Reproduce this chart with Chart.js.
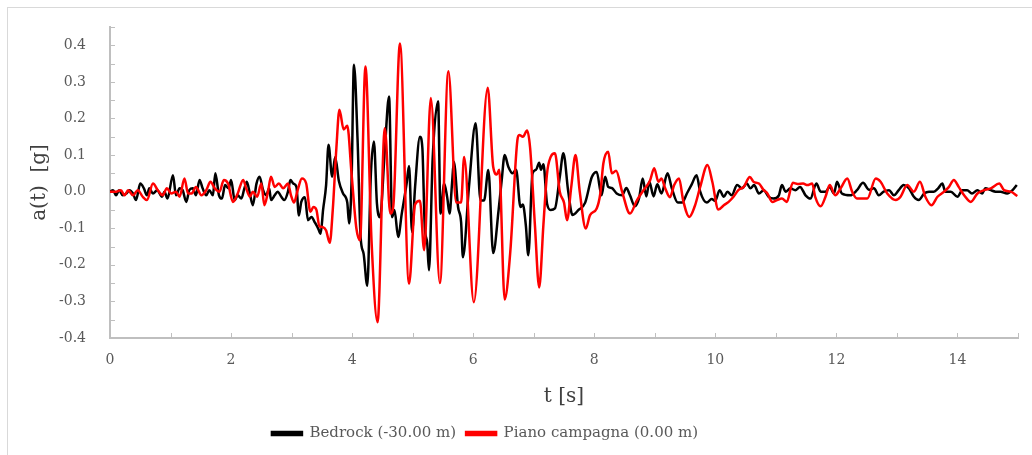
<!DOCTYPE html>
<html>
<head>
<meta charset="utf-8">
<script src="https://cdn.jsdelivr.net/npm/chart.js@4"></script>
<style>
  body { margin: 0; background: #fff; }
  #wrap { position: relative; width: 1032px; height: 455px; overflow: hidden; }
  #frame { position: absolute; left: 7px; top: 7px; width: 1060px; height: 480px;
           border-top: 1px solid #d9d9d9; border-left: 1px solid #d9d9d9; }
  canvas { position: absolute; left: 0; top: 0; }
</style>
</head>
<body>
<div id="wrap">
  <div id="frame"></div>
  <canvas id="accChart" width="1032" height="455"></canvas>
</div>
<script>
// [t (s), a (g)]
const bedrock = [
  [0, 0], [0.05, 0.004], [0.10, -0.01], [0.15, 0.004], [0.21, -0.01], [0.27, -0.005],
  [0.32, 0.004], [0.38, -0.005], [0.43, -0.023], [0.50, 0.022], [0.56, 0.009], [0.61, -0.01],
  [0.65, 0.009], [0.71, -0.005], [0.78, 0.004], [0.86, -0.014], [0.90, 0], [0.95, -0.019],
  [1.04, 0.045], [1.09, -0.01], [1.15, 0.009], [1.20, 0.004], [1.26, -0.028], [1.31, 0.004],
  [1.37, 0.009], [1.42, -0.01], [1.48, 0.032], [1.53, 0.009], [1.59, -0.01], [1.64, 0.004],
  [1.70, -0.01], [1.74, 0.05], [1.80, -0.01], [1.85, -0.019], [1.90, 0.018], [1.96, 0.009],
  [2.00, 0.032], [2.06, -0.023], [2.11, -0.01], [2.17, -0.019], [2.22, 0.009], [2.26, 0.027],
  [2.31, -0.005], [2.36, -0.037], [2.42, 0.022], [2.47, 0.041], [2.53, 0.004], [2.58, -0.01],
  [2.63, 0.009], [2.66, -0.023], [2.72, -0.01], [2.77, 0], [2.83, -0.014], [2.88, -0.023],
  [2.94, 0], [2.98, 0.032], [3.03, 0.022], [3.08, 0.013], [3.12, -0.065], [3.16, -0.028],
  [3.22, -0.015], [3.27, -0.078], [3.33, -0.069], [3.38, -0.083], [3.44, -0.101], [3.48, -0.115],
  [3.52, -0.05], [3.57, 0.018], [3.61, 0.128], [3.67, 0.041], [3.72, 0.095], [3.78, 0.03],
  [3.85, -0.005], [3.92, -0.03], [3.95, -0.087], [3.99, 0.024], [4.03, 0.347], [4.09, 0.141],
  [4.14, -0.124], [4.19, -0.17], [4.25, -0.257], [4.31, 0.05], [4.36, 0.137], [4.41, -0.033],
  [4.46, -0.07], [4.54, 0.114], [4.61, 0.26], [4.66, -0.07], [4.70, -0.05], [4.76, -0.124],
  [4.82, -0.06], [4.90, 0.022], [4.94, 0.07], [4.99, -0.11], [5.04, 0.013], [5.12, 0.15],
  [5.16, 0.12], [5.20, -0.097], [5.24, -0.14], [5.27, -0.215], [5.33, 0.09], [5.42, 0.247],
  [5.46, -0.06], [5.52, 0.022], [5.57, -0.015], [5.61, -0.06], [5.65, 0.022], [5.68, 0.082],
  [5.75, -0.042], [5.80, -0.083], [5.83, -0.179], [5.93, 0.013], [6.04, 0.187], [6.12, -0.024],
  [6.18, -0.024], [6.25, 0.059], [6.33, -0.168], [6.42, -0.05], [6.47, 0.03], [6.52, 0.1],
  [6.58, 0.068], [6.65, 0.05], [6.71, 0.06], [6.78, -0.042], [6.82, -0.035], [6.87, -0.093],
  [6.91, -0.174], [6.98, 0.05], [7.04, 0.06], [7.09, 0.079], [7.12, 0.06], [7.16, 0.075],
  [7.22, -0.033], [7.28, -0.05], [7.35, -0.046], [7.43, 0.04], [7.49, 0.105], [7.57, 0],
  [7.64, -0.064], [7.74, -0.05], [7.85, -0.03], [7.96, 0.04], [8.04, 0.054], [8.12, -0.01],
  [8.18, 0.041], [8.23, 0.013], [8.29, 0.01], [8.37, -0.005], [8.46, -0.01], [8.53, 0.01],
  [8.59, -0.01], [8.67, -0.04], [8.74, -0.018], [8.80, 0.036], [8.86, -0.013], [8.91, 0.027],
  [8.98, -0.013], [9.04, 0.02], [9.11, -0.005], [9.21, 0.05], [9.28, 0.01], [9.38, -0.03],
  [9.45, -0.03], [9.53, -0.005], [9.61, 0.02], [9.69, 0.045], [9.75, 0], [9.86, -0.03],
  [9.94, -0.02], [10.0, -0.025], [10.07, 0.004], [10.14, -0.014], [10.20, 0], [10.27, -0.01],
  [10.36, 0.018], [10.44, 0.009], [10.52, 0.022], [10.58, 0.009], [10.64, 0.018], [10.72, -0.005],
  [10.80, 0.004], [10.88, -0.014], [10.96, -0.019], [11.05, -0.01], [11.10, 0.018], [11.16, 0],
  [11.24, 0.009], [11.32, 0.004], [11.40, 0.013], [11.49, -0.01], [11.57, -0.019], [11.67, 0.022],
  [11.74, 0], [11.82, 0], [11.89, 0.013], [11.96, -0.005], [12.01, 0.027], [12.09, -0.005],
  [12.23, -0.01], [12.34, 0.004], [12.44, 0.024], [12.54, 0.005], [12.62, 0.009], [12.70, -0.01],
  [12.78, 0], [12.87, 0.004], [12.95, -0.01], [13.03, 0.004], [13.11, 0.018], [13.20, 0.009],
  [13.28, -0.014], [13.36, -0.023], [13.45, -0.005], [13.53, 0], [13.61, 0], [13.68, 0.009],
  [13.75, 0.022], [13.80, 0], [13.89, 0], [14.0, -0.014], [14.08, 0.004], [14.16, 0.004],
  [14.24, -0.005], [14.33, 0.004], [14.41, -0.005], [14.46, 0.009], [14.55, 0.004], [14.63, 0],
  [14.71, 0], [14.82, -0.005], [14.91, 0.004], [14.98, 0.018]
];

const piano = [
  [0, 0], [0.10, 0], [0.18, 0.004], [0.24, -0.01], [0.30, 0.004], [0.38, -0.01],
  [0.46, 0.004], [0.54, -0.014], [0.61, -0.023], [0.71, 0.022], [0.79, 0.004], [0.87, -0.01],
  [0.94, 0.009], [1.01, -0.005], [1.09, 0], [1.15, -0.014], [1.23, 0.036], [1.29, -0.005],
  [1.35, -0.005], [1.42, 0.013], [1.51, -0.01], [1.59, 0.004], [1.66, 0.027], [1.73, 0.009],
  [1.81, 0], [1.88, 0.032], [1.95, 0.022], [2.03, -0.028], [2.11, -0.005], [2.20, 0.032],
  [2.25, 0.009], [2.31, -0.014], [2.36, 0], [2.43, -0.014], [2.50, 0.022], [2.55, -0.037],
  [2.61, 0], [2.66, 0.041], [2.72, 0.013], [2.79, 0.022], [2.86, 0.009], [2.94, 0.022],
  [2.99, -0.01], [3.04, -0.03], [3.10, 0.004], [3.17, 0.036], [3.24, 0.023], [3.31, -0.055],
  [3.36, -0.042], [3.41, -0.05], [3.46, -0.095], [3.52, -0.097], [3.57, -0.106], [3.63, -0.14],
  [3.68, -0.05], [3.74, 0.12], [3.79, 0.224], [3.86, 0.17], [3.92, 0.18], [3.99, 0.05],
  [4.07, -0.1], [4.13, -0.133], [4.22, 0.342], [4.32, -0.133], [4.42, -0.357], [4.54, 0.173],
  [4.63, -0.06], [4.68, -0.04], [4.79, 0.405], [4.94, -0.252], [5.04, -0.035], [5.12, -0.025],
  [5.19, -0.16], [5.30, 0.256], [5.45, -0.25], [5.59, 0.329], [5.72, -0.03], [5.80, -0.03],
  [5.85, 0.095], [6.01, -0.302], [6.24, 0.284], [6.33, 0.068], [6.39, 0.047], [6.43, 0.06],
  [6.52, -0.295], [6.61, -0.17], [6.73, 0.141], [6.76, 0.155], [6.82, 0.15], [6.89, 0.167],
  [6.94, 0.12], [7.02, -0.093], [7.09, -0.262], [7.16, -0.09], [7.22, 0.05], [7.28, 0.095],
  [7.35, 0.105], [7.43, 0], [7.50, -0.03], [7.55, -0.078], [7.62, 0.013], [7.69, 0.1],
  [7.76, 0], [7.86, -0.101], [7.93, -0.064], [8.04, -0.046], [8.10, -0.005], [8.15, 0.077],
  [8.23, 0.109], [8.29, 0.05], [8.36, 0.057], [8.46, 0], [8.59, -0.06], [8.70, -0.025],
  [8.81, 0.003], [8.92, 0.03], [8.99, 0.064], [9.06, 0.027], [9.11, 0.036], [9.17, 0.01],
  [9.25, -0.015], [9.32, 0.018], [9.40, 0.036], [9.47, -0.025], [9.57, -0.069], [9.66, -0.04],
  [9.75, 0.013], [9.87, 0.073], [9.95, 0.027], [10.05, -0.049], [10.14, -0.037], [10.22, -0.028],
  [10.30, -0.014], [10.38, 0.004], [10.47, 0.013], [10.57, 0.04], [10.63, 0.027], [10.72, 0.022],
  [10.80, 0.004], [10.86, -0.005], [10.94, -0.028], [11.02, -0.023], [11.10, -0.019], [11.18, -0.028],
  [11.28, 0.024], [11.36, 0.021], [11.45, 0.022], [11.52, 0.018], [11.60, 0.022], [11.65, -0.014],
  [11.74, -0.04], [11.82, -0.014], [11.89, 0.018], [11.98, -0.01], [12.07, 0.009], [12.18, 0.036],
  [12.26, 0], [12.34, -0.019], [12.51, -0.019], [12.65, 0.036], [12.73, 0.027], [12.84, -0.005],
  [12.98, -0.023], [13.06, -0.014], [13.17, 0.018], [13.28, 0], [13.38, 0.027], [13.47, -0.014],
  [13.57, -0.037], [13.67, -0.014], [13.78, 0], [13.86, 0.013], [13.94, 0.032], [14.02, 0.013],
  [14.11, -0.01], [14.22, -0.028], [14.33, -0.005], [14.44, 0.004], [14.55, 0.009], [14.69, 0.022],
  [14.77, 0.004], [14.88, 0], [14.99, -0.012]
];

const seriesNames = ['Bedrock (-30.00 m)', 'Piano campagna (0.00 m)'];
const xLabelled = [0, 2, 4, 6, 8, 10, 12, 14];
const yLabelled = [-0.4, -0.3, -0.2, -0.1, 0, 0.1, 0.2, 0.3, 0.4];

const fontFamily = "'DejaVu Serif', 'Liberation Serif', serif";
const axisGrey = '#bfbfbf';

// Excel-style tick marks pointing into the plot
const innerTicks = {
    id: 'innerTicks',
    beforeDatasetsDraw(chart) {
        const { ctx, scales: { x, y } } = chart;
        ctx.save();
        ctx.strokeStyle = axisGrey;
        ctx.lineWidth = 1;
        ctx.beginPath();
        x.ticks.forEach(t => {
            const px = Math.round(x.getPixelForValue(t.value)) + 0.5;
            ctx.moveTo(px, y.bottom);
            ctx.lineTo(px, y.bottom - 5);
        });
        y.ticks.forEach(t => {
            const py = Math.round(y.getPixelForValue(t.value)) + 0.5;
            ctx.moveTo(x.left, py);
            ctx.lineTo(x.left + 5, py);
        });
        ctx.stroke();
        ctx.restore();
    }
};

// nudge the legend a little left, as in the original layout
const legendShift = {
    id: 'legendShift',
    afterLayout(chart) {
        chart.legend.left -= 24;
        chart.legend.right -= 24;
    }
};

const toXY = pts => pts.map(p => ({ x: p[0], y: p[1] }));

const ctx = document.getElementById('accChart').getContext('2d');
new Chart(ctx, {
    type: 'line',
    data: {
        datasets: [{
            label: seriesNames[0],
            data: toXY(bedrock),
            borderColor: '#000000',
            backgroundColor: '#000000',
            borderWidth: 2.5,
            pointRadius: 0,
            cubicInterpolationMode: 'monotone',
            order: 1
        }, {
            label: seriesNames[1],
            data: toXY(piano),
            borderColor: '#ff0000',
            backgroundColor: '#ff0000',
            borderWidth: 2.5,
            pointRadius: 0,
            cubicInterpolationMode: 'monotone',
            order: 0
        }]
    },
    options: {
        responsive: false,
        animation: false,
        devicePixelRatio: 1,
        layout: {
            padding: { top: 27, right: 14, left: 0, bottom: 4 }
        },
        scales: {
            x: {
                type: 'linear',
                min: 0,
                max: 15,
                grid: { display: false },
                border: { color: axisGrey, width: 2 },
                ticks: {
                    stepSize: 1,
                    autoSkip: false,
                    maxRotation: 0,
                    padding: 6,
                    color: '#595959',
                    font: { family: fontFamily, size: 14 },
                    callback: v => xLabelled.includes(v) ? String(v) : ''
                },
                title: {
                    display: true,
                    text: 't [s]',
                    color: '#404040',
                    font: { family: fontFamily, size: 20 },
                    padding: { top: 10, bottom: 7 }
                },
                afterFit(scale) { scale.height = 78; }
            },
            y: {
                min: -0.4,
                max: 0.45,
                grid: { display: false },
                border: { color: axisGrey, width: 2 },
                ticks: {
                    stepSize: 0.05,
                    autoSkip: false,
                    padding: 16,
                    color: '#595959',
                    font: { family: fontFamily, size: 14 },
                    callback: v => {
                        const r = Math.round(v * 10) / 10;
                        return Math.abs(v - r) < 1e-6 && yLabelled.includes(r) ? r.toFixed(1) : '';
                    }
                },
                title: {
                    display: true,
                    text: 'a(t)  [g]',
                    color: '#404040',
                    font: { family: fontFamily, size: 20 },
                    padding: { top: 28, bottom: 0 }
                },
                afterFit(scale) { scale.width = 110; }
            }
        },
        plugins: {
            legend: {
                position: 'bottom',
                labels: {
                    boxWidth: 30,
                    boxHeight: 3,
                    padding: 10,
                    color: '#595959',
                    font: { family: fontFamily, size: 15 },
                    sort: (a, b) => a.datasetIndex - b.datasetIndex
                }
            },
            tooltip: { enabled: false }
        }
    },
    plugins: [innerTicks, legendShift]
});
</script>
</body>
</html>
